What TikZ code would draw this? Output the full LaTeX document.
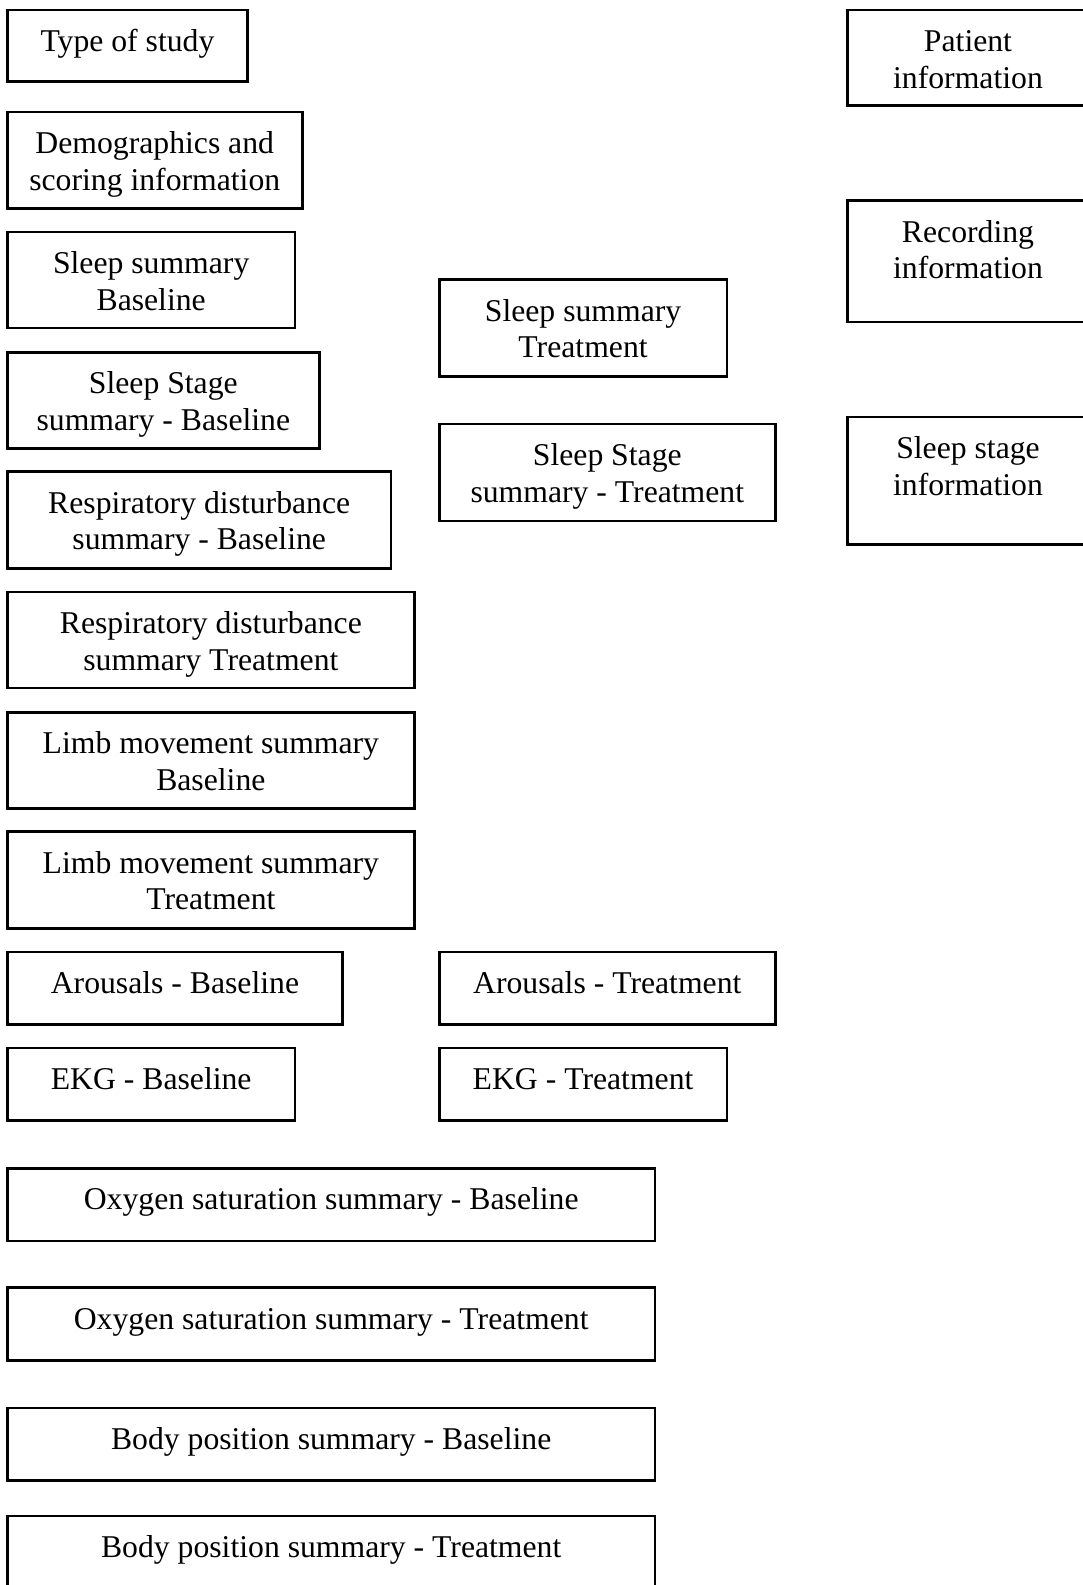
\documentclass[tikz,border=0pt]{standalone}
\usepackage{fontspec}
\setmainfont{Liberation Serif}
\begin{document}
\begin{tikzpicture}[x=1pt,y=-1pt,
  box/.style={draw, line width=2.6pt, rectangle, inner sep=0pt, anchor=north west},
  lbl/.style={anchor=north, align=center, inner sep=0pt,
    font=\fontsize{31.7}{36.8}\selectfont}]
\useasboundingbox (0,0) rectangle (1083,1585);
\clip (0,0) rectangle (1083,1585);
% \reportbox{name}{left}{top}{right}{bottom}{caption}
\newcommand\reportbox[6]{%
  \node[box, minimum width={#4pt-#2pt}, minimum height={#5pt-#3pt}] (#1) at (#2-1,#3-1) {};
  \node[lbl] (#1-t) at ([yshift=-17pt]#1.north) {\strut #6};
}
% left column
\reportbox{type}{7}{9.5}{247.3}{81}{Type of study}
\reportbox{demo}{7}{111.5}{301.9}{208.3}{Demographics and\\scoring information}
\reportbox{ssb}{7}{231.6}{294.8}{327.6}{Sleep summary\\Baseline}
\reportbox{sstb}{7}{351.9}{319.1}{448}{Sleep Stage\\summary - Baseline}
\reportbox{rdb}{7}{471.2}{390.8}{568.3}{Respiratory disturbance\\summary - Baseline}
\reportbox{rdt}{7}{591.6}{414.1}{687.6}{Respiratory disturbance\\summary Treatment}
\reportbox{lmb}{7}{711.9}{414.1}{808}{Limb movement summary\\Baseline}
\reportbox{lmt}{7}{831.2}{414.1}{928.3}{Limb movement summary\\Treatment}
\reportbox{arb}{7}{951.5}{342.3}{1024.3}{Arousals - Baseline}
\reportbox{ekgb}{7}{1047.6}{294.8}{1120.4}{EKG - Baseline}
\reportbox{osb}{7}{1167.9}{654.8}{1240.7}{Oxygen saturation summary - Baseline}
\reportbox{ost}{7}{1287.2}{654.8}{1360.1}{Oxygen saturation summary - Treatment}
\reportbox{bpb}{7}{1407.6}{654.8}{1480.4}{Body position summary - Baseline}
\reportbox{bpt}{7}{1515.8}{654.8}{1600}{Body position summary - Treatment}
% middle column
\reportbox{sst}{438.9}{279.1}{726.6}{376.2}{Sleep summary\\Treatment}
\reportbox{sstt}{438.9}{423.7}{775.1}{520.8}{Sleep Stage\\summary - Treatment}
\reportbox{art}{438.9}{951.5}{775.1}{1024.3}{Arousals - Treatment}
\reportbox{ekgt}{438.9}{1047.6}{726.6}{1120.4}{EKG - Treatment}
% right column
\reportbox{pat}{847.4}{9.5}{1088}{105.2}{Patient\\information}
\reportbox{rec}{847.4}{200.2}{1088}{321.6}{Recording\\information}
\reportbox{stg}{847.4}{416.6}{1088}{544}{Sleep stage\\information}
\end{tikzpicture}
\end{document}
